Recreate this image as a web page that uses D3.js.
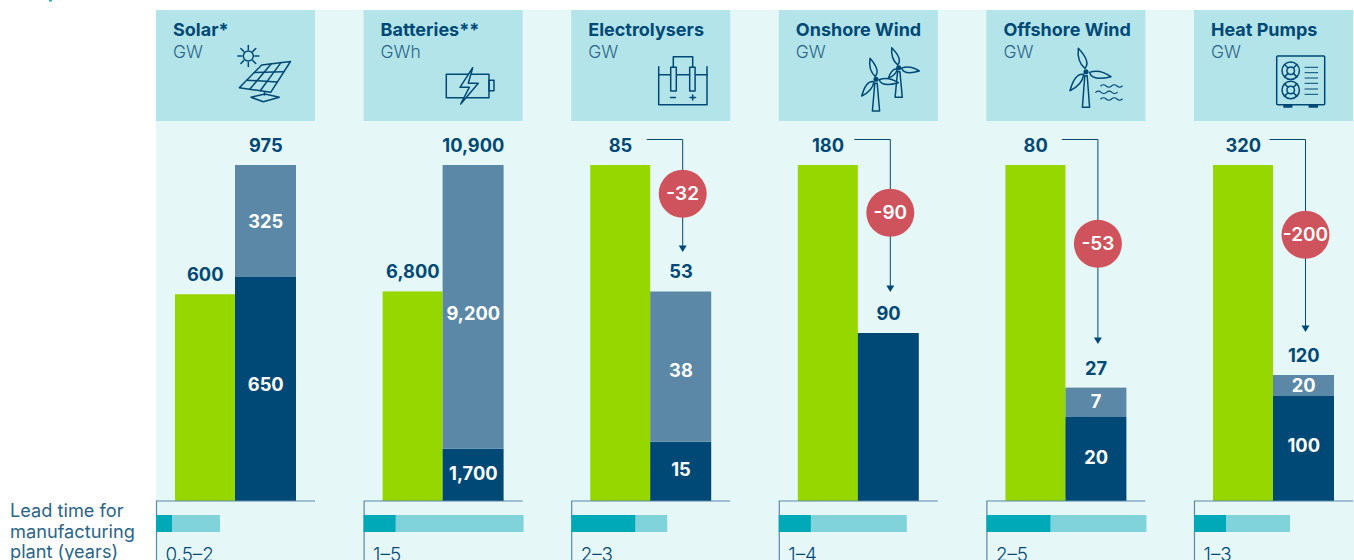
<!DOCTYPE html>
<html>
<head>
<meta charset="utf-8">
<script src="https://cdn.jsdelivr.net/npm/d3@7"></script>
<style>
    html, body { margin: 0; padding: 0; background: #fff; overflow: hidden; }
    svg { display: block; }
    text { font-family: Inter, "Noto Sans", sans-serif; }
</style>
</head>
<body>
<div id="chart"></div>
<script>
// Chart values
const technologies = ["Solar*", "Batteries**", "Electrolysers", "Onshore Wind", "Offshore Wind", "Heat Pumps"];
const units = ["GW", "GWh", "GW", "GW", "GW", "GW"];
const demand = [600, 6800, 85, 180, 80, 320];
const existing = [650, 1700, 15, 90, 20, 100];
const announced = [325, 9200, 38, 0, 7, 20];
const totals = [975, 10900, 53, 90, 27, 120];
const gaps = [null, null, -32, -90, -53, -200];
const leadMin = [0.5, 1, 2, 1, 2, 1];
const leadMax = [2, 5, 3, 4, 5, 3];
const leadLabels = ["0.5–2", "1–5", "2–3", "1–4", "2–5", "1–3"];
const leadCaption = ["Lead time for", "manufacturing", "plant (years)"];

const colors = {
    panel: "#e6f7f8",
    header: "#b3e4e9",
    demand: "#97d700",
    existing: "#004976",
    announced: "#5b88a7",
    gap: "#cf535d",
    leadMin: "#00a9b7",
    leadMax: "#80d3db",
    text: "#004976",
    soft: "#2b6488"
};

const width = 1354, height = 560;
const barTop = 165, base = 501, panelW = 159;

// hand tweaks so labels and arrows sit where the original has them
const announcedNudge = [7, 13, 10, 0, 6, 6];
const existingNudge = [2, 5, 5, 0, 5, 3];
const arrowGap = [0, 0, 39.5, 41, 43.5, 43];
const badgeNudge = [0, 0, -2, -3, 2, -1];

const svg = d3.select("#chart").append("svg")
    .attr("width", width)
    .attr("height", height);

// clipped remainder of something above the frame
svg.append("rect").attr("x", 49).attr("y", 0).attr("width", 3).attr("height", 1.5).attr("fill", "#19b5c4");

// Set-up panels
const panelX = d3.scaleBand()
    .domain(d3.range(technologies.length))
    .range([156, 156 + 207.6 * technologies.length]);

const leadX = d3.scaleLinear().domain([0, 5]).range([0, 160]);

svg.append("rect")
    .attr("x", 156).attr("y", 10)
    .attr("width", width - 156).attr("height", height - 10)
    .attr("fill", colors.panel);

const panels = svg.selectAll("g.panel")
    .data(technologies)
    .enter()
    .append("g")
    .attr("class", "panel")
    .attr("transform", (d, i) => `translate(${panelX(i)},0)`);

panels.append("rect")
    .attr("y", 10)
    .attr("width", panelW).attr("height", 111)
    .attr("fill", colors.header);

panels.append("text")
    .attr("x", 17).attr("y", 35.5)
    .attr("font-size", 18).attr("font-weight", 700)
    .attr("fill", colors.text)
    .text(d => d);

panels.append("text")
    .attr("x", 17).attr("y", 58)
    .attr("font-size", 17.5).attr("font-weight", 300)
    .attr("fill", colors.soft)
    .text((d, i) => units[i]);

panels.each(function (d, i) {
    const g = d3.select(this);
    const y = d3.scaleLinear().domain([0, Math.max(demand[i], totals[i])]).range([base, barTop]);
    const x = d3.scaleBand().domain(["demand", "supply"]).range([19, 140]);

    // bars
    g.append("rect")
        .attr("x", x("demand")).attr("y", y(demand[i]))
        .attr("width", x.bandwidth() - 0.5).attr("height", base - y(demand[i]))
        .attr("fill", colors.demand);
    g.append("rect")
        .attr("x", x("supply") - 0.5).attr("y", y(existing[i]))
        .attr("width", x.bandwidth() + 0.5).attr("height", base - y(existing[i]))
        .attr("fill", colors.existing);
    if (announced[i] > 0) {
        g.append("rect")
            .attr("x", x("supply") - 0.5).attr("y", y(totals[i]))
            .attr("width", x.bandwidth() + 0.5).attr("height", y(existing[i]) - y(totals[i]))
            .attr("fill", colors.announced);
    }

    // value labels
    const label = (cx, cy, value, fill) => g.append("text")
        .attr("x", cx).attr("y", cy)
        .attr("text-anchor", "middle")
        .attr("font-size", 18.3).attr("font-weight", 700)
        .attr("fill", fill)
        .text(d3.format(",")(value));

    const demandX = x("demand") + x.bandwidth() / 2, supplyX = x("supply") + x.bandwidth() / 2;
    label(demandX, i < 2 ? y(demand[i]) - 13 : 152, demand[i], colors.text);
    label(supplyX, y(totals[i]) - 13, totals[i], colors.text);
    if (announced[i] > 0) {
        label(supplyX, (y(totals[i]) + y(existing[i])) / 2 + announcedNudge[i], announced[i], "#fff");
        label(supplyX, (y(existing[i]) + base) / 2 + existingNudge[i], existing[i], "#fff");
    }

    // gap arrow and badge
    if (gaps[i] !== null) {
        const lineX = 111.5, tip = y(totals[i]) - arrowGap[i];
        const badgeY = (139.5 + tip) / 2 + badgeNudge[i];
        g.append("path")
            .attr("d", d3.line()([[lineX - 36, 139.5], [lineX, 139.5], [lineX, tip - 6]]))
            .attr("fill", "none")
            .attr("stroke", colors.existing)
            .attr("stroke-width", 1);
        g.append("path")
            .attr("d", d3.line()([[lineX - 4, tip - 6.5], [lineX + 4, tip - 6.5], [lineX, tip]]))
            .attr("fill", colors.existing);
        g.append("circle")
            .attr("cx", lineX).attr("cy", badgeY).attr("r", 24)
            .attr("fill", colors.gap);
        g.append("text")
            .attr("x", lineX).attr("y", badgeY + 6.5)
            .attr("text-anchor", "middle")
            .attr("font-size", 19).attr("font-weight", 600)
            .attr("fill", "#fff")
            .text(gaps[i]);
    }

    // lead time strip
    g.append("path")
        .attr("d", d3.line()([[0.5, height], [0.5, base], [panelW, base]]))
        .attr("fill", "none")
        .attr("stroke", colors.announced)
        .attr("stroke-width", 1.2);
    g.append("rect")
        .attr("x", leadX(0)).attr("y", 515)
        .attr("width", leadX(leadMax[i])).attr("height", 17)
        .attr("fill", colors.leadMax);
    g.append("rect")
        .attr("x", leadX(0)).attr("y", 515)
        .attr("width", leadX(leadMin[i])).attr("height", 17)
        .attr("fill", colors.leadMin);
    g.append("text")
        .attr("x", 9.5).attr("y", 560.5)
        .attr("font-size", 18.8).attr("font-weight", 300)
        .attr("fill", colors.text)
        .text(leadLabels[i]);
});

svg.selectAll("text.caption")
    .data(leadCaption)
    .enter()
    .append("text")
    .attr("class", "caption")
    .attr("x", 10)
    .attr("y", (d, i) => 517 + i * 20.5)
    .attr("font-size", 18.2).attr("font-weight", 400)
    .attr("fill", colors.soft)
    .text(d => d);

// Icons, traced by hand in page coordinates
const icons = svg.append("g")
    .attr("fill", "none")
    .attr("stroke", colors.text)
    .attr("stroke-width", 1.5)
    .attr("stroke-linejoin", "round")
    .attr("stroke-linecap", "round");

const iconLine = d3.line();
const poly = pts => icons.append("path").attr("d", iconLine(pts) + "Z");
const wire = pts => icons.append("path").attr("d", iconLine(pts));

// sun
const sun = [248.3, 56];
icons.append("circle").attr("cx", sun[0]).attr("cy", sun[1]).attr("r", 5);
d3.range(8).forEach(k => {
    const a = k * Math.PI / 4;
    wire([[sun[0] + 6.5 * Math.cos(a), sun[1] + 6.5 * Math.sin(a)], [sun[0] + 10.5 * Math.cos(a), sun[1] + 10.5 * Math.sin(a)]]);
});

// solar panel
const lerp = (a, b, t) => [a[0] + (b[0] - a[0]) * t, a[1] + (b[1] - a[1]) * t];
const pA = [290.5, 61.5], pB = [261.7, 65], pC = [239.3, 87.7], pD = [270.7, 92.3];
poly([pA, pB, pC, pD]);
[1 / 3, 2 / 3].forEach(t => wire([lerp(pB, pA, t), lerp(pC, pD, t)]));
[1 / 3, 2 / 3].forEach(t => wire([lerp(pB, pC, t), lerp(pA, pD, t)]));
wire([[264.5, 92], [264.5, 95]]);
poly([[251, 97.3], [265, 94], [279.3, 97.3], [263.3, 101.7]]);

// battery
icons.append("rect").attr("x", 446.3).attr("y", 74.3).attr("width", 42.7).attr("height", 23.4);
icons.append("rect").attr("x", 489).attr("y", 80.3).attr("width", 5).attr("height", 10.4);
poly([[472.7, 67.7], [460, 87.3], [469.3, 87.3], [460.7, 104], [478.3, 83.3], [468.3, 83.3]]).attr("fill", colors.header);

// electrolyser
wire([[658.7, 66.7], [658.7, 104.7], [707, 104.7], [707, 66.7]]);
wire([[658.7, 74.7], [707, 74.7]]);
icons.append("rect").attr("x", 670.7).attr("y", 67.3).attr("width", 5.6).attr("height", 23.7).attr("fill", colors.header);
icons.append("rect").attr("x", 689.7).attr("y", 67.3).attr("width", 5.4).attr("height", 23.7).attr("fill", colors.header);
wire([[673.3, 67.3], [673.3, 56.7], [692.7, 56.7], [692.7, 67.3]]);
wire([[670.5, 97.5], [675.5, 97.5]]);
wire([[690, 97.5], [695.5, 97.5]]);
wire([[692.7, 95], [692.7, 100]]);

// wind turbines
function blade(hub, tip) {
    const dx = tip[0] - hub[0], dy = tip[1] - hub[1];
    const nx = -dy * 0.32, ny = dx * 0.32;
    const s = [hub[0] + dx * 0.14, hub[1] + dy * 0.14];
    const c1 = [hub[0] + dx * 0.32 + nx, hub[1] + dy * 0.32 + ny];
    const c2 = [hub[0] + dx * 0.5 - nx * 0.7, hub[1] + dy * 0.5 - ny * 0.7];
    icons.append("path").attr("d", `M${s}Q${c1} ${tip}Q${c2} ${s}Z`).attr("fill", colors.header);
}
function turbine(hub, tips, baseY) {
    poly([[hub[0] - 1.2, hub[1] + 4], [hub[0] + 1.2, hub[1] + 4], [hub[0] + 3.6, baseY], [hub[0] - 3.6, baseY]]).attr("fill", colors.header);
    tips.forEach(t => blade(hub, t));
    icons.append("circle").attr("cx", hub[0]).attr("cy", hub[1]).attr("r", 1.8).attr("fill", colors.text);
}
turbine([898.7, 67.7], [[891.7, 47.7], [919.3, 71], [888.3, 78.3]], 97.3);
turbine([876, 79.3], [[870, 58.3], [898.3, 82.7], [861.7, 96]], 111);
turbine([1086, 71.7], [[1078.3, 48.3], [1111, 76.7], [1070, 90.7]], 107.3);

// waves
[[1100.7, 86], [1095.7, 92.3], [1100.7, 99]].forEach(([x0, y0]) => {
    const s = 21.6 / 4;
    icons.append("path")
        .attr("d", `M${x0},${y0}q${s / 2},-2.4 ${s},0t${s},0t${s},0t${s},0`)
        .attr("stroke-width", 1.1);
});

// heat pump
icons.append("rect").attr("x", 1276.7).attr("y", 56).attr("width", 48).attr("height", 48.7).attr("rx", 1);
[70.7, 90].forEach(cy => {
    icons.append("circle").attr("cx", 1290.7).attr("cy", cy).attr("r", 8.7);
    icons.append("circle").attr("cx", 1290.7).attr("cy", cy).attr("r", 3.8);
    d3.range(4).forEach(k => {
        const a = Math.PI / 4 + k * Math.PI / 2;
        wire([[1290.7 + 3.8 * Math.cos(a), cy + 3.8 * Math.sin(a)], [1290.7 + 8.7 * Math.cos(a), cy + 8.7 * Math.sin(a)]]);
    });
});
[67.3, 72.7, 78, 83.3, 89, 94.3].forEach(ly => wire([[1305, ly], [1317.7, ly]]).attr("stroke-width", 1));
[[1284, 7.7], [1309.3, 8]].forEach(([fx, fw]) => {
    icons.append("rect").attr("x", fx).attr("y", 104.7).attr("width", fw).attr("height", 2.2).attr("fill", colors.text);
});
</script>
</body>
</html>
